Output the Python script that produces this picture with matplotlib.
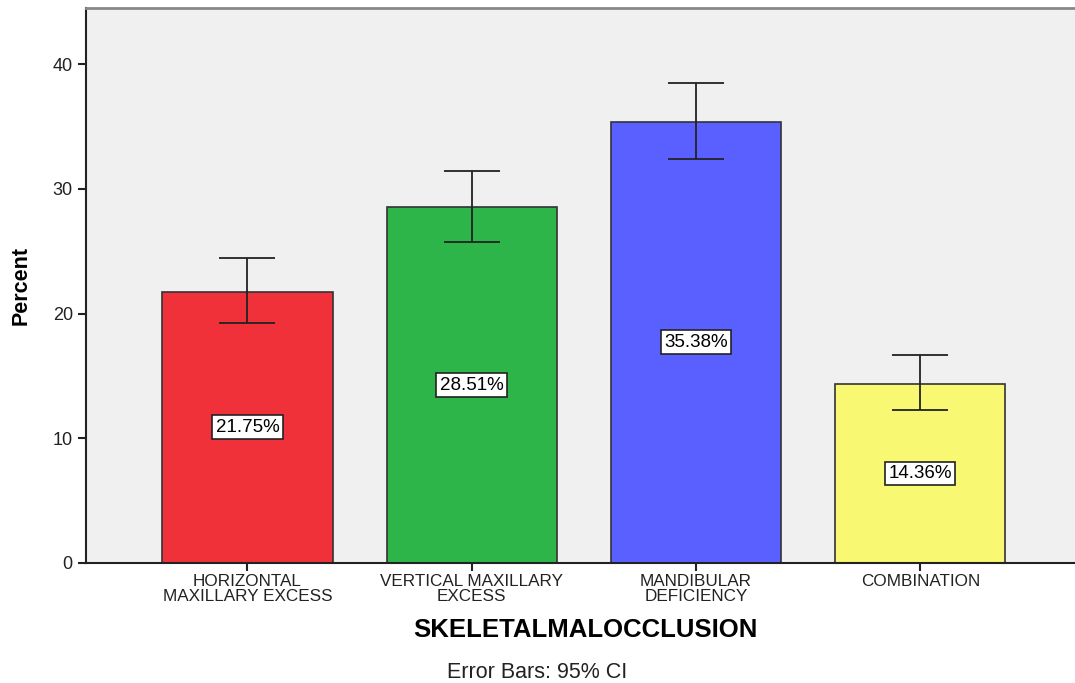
import matplotlib
matplotlib.use("Agg")
import matplotlib.pyplot as plt
import numpy as np

categories = ["HORIZONTAL\nMAXILLARY EXCESS", "VERTICAL MAXILLARY\nEXCESS",
              "MANDIBULAR\nDEFICIENCY", "COMBINATION"]
percent = [21.75, 28.51, 35.38, 14.36]
ci_low = [19.25, 25.74, 32.40, 12.27]
ci_high = [24.46, 31.43, 38.49, 16.68]
colors = ["#F0313A", "#2DB54A", "#5A60FF", "#F9F872"]

plt.rcParams['font.family'] = ['Liberation Sans', 'DejaVu Sans']

fig = plt.figure(figsize=(10.75, 6.83), dpi=100)
ax = fig.add_axes([0.08, 0.1757, 0.92, 0.8126])
ax.set_facecolor("#F0F0F0")

x = np.arange(len(categories))
ax.bar(x, percent, width=0.76, color=colors, edgecolor="#333333", linewidth=1.2, zorder=2)

err = [np.array(percent) - np.array(ci_low), np.array(ci_high) - np.array(percent)]
ax.errorbar(x, percent, yerr=err, fmt="none", ecolor="#222222", elinewidth=1.3,
            capsize=20, capthick=1.3, zorder=3)

for xi, v in zip(x, percent):
    ax.text(xi, v / 2, "{:.2f}%".format(v), ha="center", va="center", fontsize=13.5,
            bbox=dict(boxstyle="square,pad=0.18", facecolor="white", edgecolor="#222222", linewidth=1.2),
            zorder=4)

ax.set_xlim(-0.72, 3.69)
ax.set_ylim(0, 44.5)
ax.set_yticks([0, 10, 20, 30, 40])
ax.set_xticks(x)
ax.set_xticklabels(categories, fontsize=12.3, linespacing=0.95)
ax.tick_params(axis="y", labelsize=13, length=6, width=1.5, color="#222222", labelcolor="#222222")
ax.tick_params(axis="x", length=6, width=1.5, color="#222222", labelcolor="#222222", pad=2)

for s in ["left", "bottom"]:
    ax.spines[s].set_linewidth(1.5)
    ax.spines[s].set_color("#222222")
ax.spines["top"].set_linewidth(2)
ax.spines["top"].set_color("#888888")
ax.spines["right"].set_visible(False)

ax.set_ylabel("Percent", fontsize=15.5, fontweight="bold")
ax.yaxis.set_label_coords(-0.055, 0.5)
fig.text(0.545, 0.077, "SKELETALMALOCCLUSION", ha="center", va="center", fontsize=18.5, fontweight="bold")
fig.text(0.5, 0.016, "Error Bars: 95% CI", ha="center", va="center", fontsize=15.5, color="#222222")

fig.savefig("out.png", dpi=100)
